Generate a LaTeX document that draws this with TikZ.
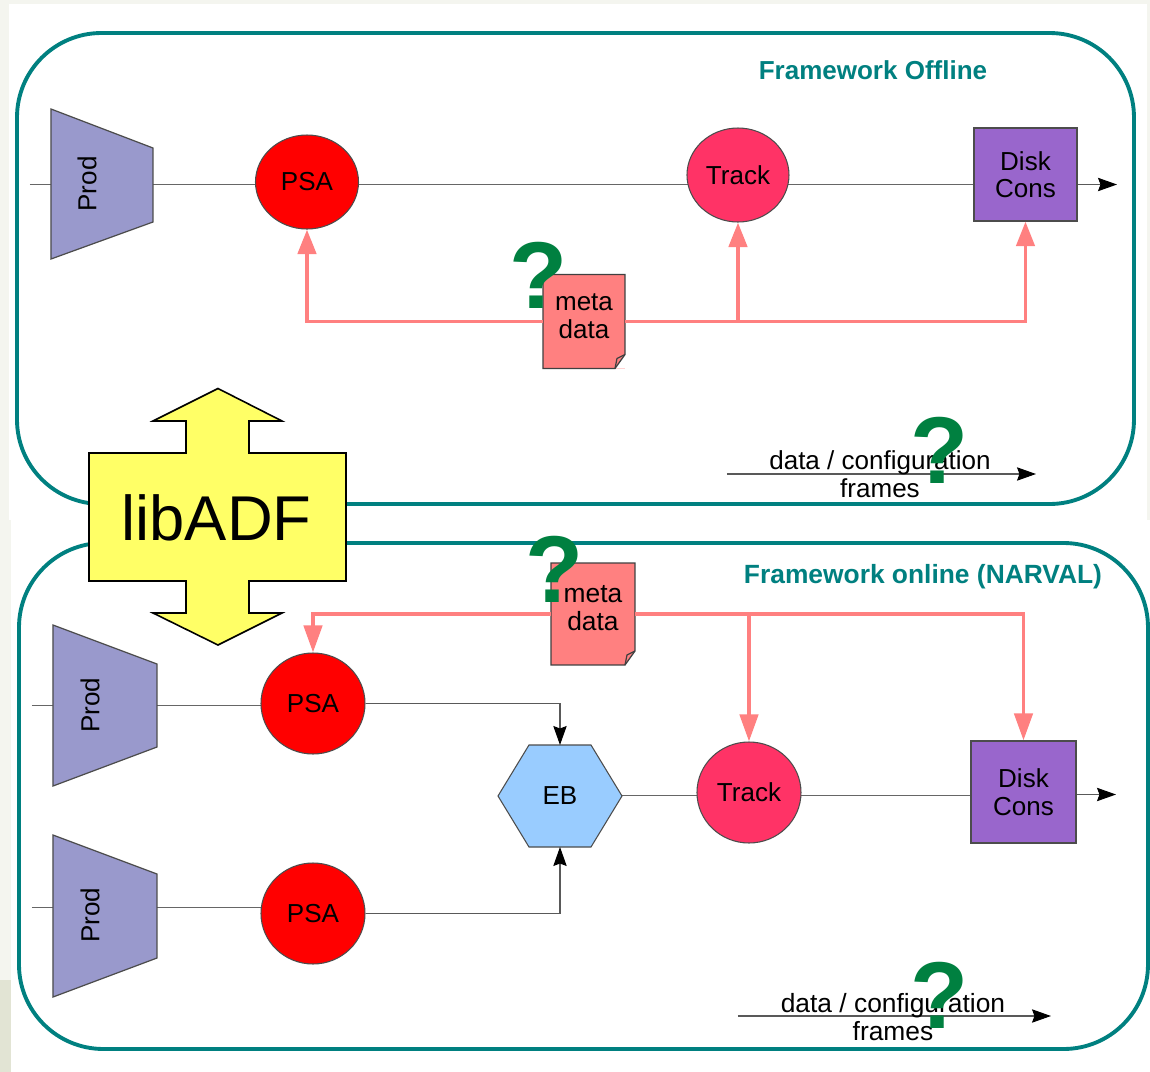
\documentclass[tikz,border=0pt]{standalone}
\usepackage{fontspec}
\setmainfont{Liberation Sans}
\usetikzlibrary{arrows.meta,shapes.geometric,backgrounds}
\definecolor{panelteal}{HTML}{008080}
\definecolor{quest}{HTML}{008040}
\definecolor{metapink}{HTML}{FF8080}
\definecolor{pagetint}{HTML}{F4F5EF}
\definecolor{cornertint}{HTML}{E2E4D4}
\definecolor{prodblue}{HTML}{9999CC}
\definecolor{trackred}{HTML}{FF3366}
\definecolor{diskviolet}{HTML}{9966CC}
\definecolor{ebblue}{HTML}{99CCFF}
\definecolor{libyellow}{HTML}{FFFF66}
\tikzset{
  lbl/.style={font=\fontsize{7.4}{7.8}\selectfont,inner sep=0pt,align=center},
  lblwide/.style={lbl,font=\fontsize{7.5}{8.1}\selectfont},
  panel/.style={draw=panelteal,line width=1.1pt,fill=white,rounded corners=24pt},
  paneltitle/.style={lbl,text=panelteal,font=\fontsize{7.4}{7.8}\selectfont\bfseries},
  prodshape/.style={draw=black!70,line width=0.35pt,fill=prodblue},
  prodlbl/.style={lbl,rotate=90},
  psanode/.style={lbl,ellipse,draw=black!70,line width=0.3pt,fill=red},
  tracknode/.style={lbl,ellipse,draw=black!70,line width=0.3pt,fill=trackred},
  disknode/.style={lbl,rectangle,draw=black!70,line width=0.35pt,fill=diskviolet},
  metanode/.style={rectangle,inner sep=0pt,outer sep=0pt,fill=metapink},
  metaline/.style={draw=black!75,line width=0.35pt},
  flow/.style={draw=black!65,line width=0.3pt,-{Stealth[length=5.4pt,width=3.8pt,inset=0.7pt,black]}},
  plain/.style={draw=black!60,line width=0.3pt},
  metaflow/.style={metapink,line width=1.1pt,-{Triangle[length=7pt,width=5.2pt]}},
  metaflowlong/.style={metapink,line width=1.1pt,-{Triangle[length=7.7pt,width=5.2pt]}},
  quesmark/.style={text=quest,inner sep=0pt,font=\fontsize{27}{27}\selectfont\bfseries},
}
\begin{document}
\begin{tikzpicture}[x=0.01cm,y=-0.01cm]
  \useasboundingbox (0,0) rectangle (1150,1072);
  % nodes of the upper frame
  \node[psanode,minimum width=103*0.01cm,minimum height=94*0.01cm] (psaA) at (307,182) {PSA};
  \node[tracknode,minimum width=102*0.01cm,minimum height=94*0.01cm] (trackA) at (738,175) {Track};
  \node[disknode,minimum width=103*0.01cm,minimum height=93*0.01cm] (diskA) at (1025.5,174.5) {Disk\\Cons};
  \node[metanode,minimum width=82*0.01cm,minimum height=94*0.01cm] (metaA) at (584,321.5) {};
  \node[paneltitle] (titleA) at (873,70) {Framework Offline};
  % nodes of the lower frame
  \node[psanode,minimum width=104*0.01cm,minimum height=101*0.01cm] (psaB) at (313,703.5) {PSA};
  \node[psanode,minimum width=104*0.01cm,minimum height=101*0.01cm] (psaC) at (313,913.5) {PSA};
  \node[tracknode,minimum width=104*0.01cm,minimum height=101*0.01cm] (trackB) at (749,792.5) {Track};
  \node[disknode,minimum width=105*0.01cm,minimum height=102*0.01cm] (diskB) at (1023.5,792) {Disk\\Cons};
  \node[metanode,minimum width=84*0.01cm,minimum height=102*0.01cm] (metaB) at (593,614) {};
  \node[paneltitle,font=\fontsize{7.5}{7.8}\selectfont\bfseries] (titleB) at (923,577) {Framework online (NARVAL)};
  \coordinate (rowA) at (153,184.5);
  \coordinate (inA) at (30,184.5);
  \coordinate (outA) at (1117,184.5);
  \coordinate (prodBr) at (157,705.5);
  \coordinate (inB) at (32,705.5);
  \coordinate (prodCr) at (157,907.5);
  \coordinate (inC) at (32,907.5);
  \coordinate (ebN) at (560,745);
  \coordinate (ebS) at (560,847);
  \coordinate (ebE) at (622,795.5);
  \coordinate (outB) at (1116,794.5);
  \coordinate (legAs) at (727,474);
  \coordinate (legAe) at (1036,474);
  \coordinate (legBs) at (738,1016);
  \coordinate (legBe) at (1051,1016);
  \begin{scope}[on background layer]
    \fill[pagetint] (0,0) rectangle (1150,1072);
    \fill[cornertint] (0,980) rectangle (11,1072);
    \fill[white] (9,4) rectangle (1147,520);
    \fill[white] (11,520) rectangle (1150,1072);
    \draw[panel] (17,33) rectangle (1134,504);
    \draw[panel] (19,543) rectangle (1148,1049);
    \draw[plain] (inA) -- (rowA);
    \draw[plain] (rowA) -- (rowA -| psaA.center) -- (rowA -| trackA.center) -- (rowA -| diskA.center);
    \draw[plain] (inB) -- (prodBr) -- (prodBr -| psaB.center);
    \draw[plain] (inC) -- (prodCr) -- (prodCr -| psaC.center);
    \draw[plain] (ebE) -- (ebE -| trackB.center) -- (ebE -| diskB.center);
  \end{scope}
  % prod stages
  \draw[prodshape] (51,109) -- (153,148) -- (153,222) -- (51,259) -- cycle;
  \draw[prodshape] (53,625) -- (157,664) -- (157,747) -- (53,786) -- cycle;
  \draw[prodshape] (53,835) -- (157,874) -- (157,958) -- (53,997) -- cycle;
  \node[prodlbl] (prodA) at (87,184) {Prod};
  \node[prodlbl] (prodB) at (90,705) {Prod};
  \node[prodlbl] (prodC) at (90,915) {Prod};
  % event builder
  \draw[draw=black!70,line width=0.3pt,fill=ebblue] (498,796) -- (529,745) -- (591,745) -- (622,796) -- (591,847) -- (529,847) -- cycle;
  \node[lbl] (eb) at (560,796) {EB};
  % dog ears of the meta data sheets
  \fill[white] (metaA.south east) -- ++(0,-14) -- ++(-10,14) -- cycle;
  \draw[metaline] (metaA.south west) -- (metaA.north west) -- (metaA.north east) -- ++(0,80) -- ++(-10,14) -- cycle;
  \draw[metaline] (metaA.south east) ++(-10,0) -- ++(2,-10) -- ++(8,-4);
  \fill[white] (metaB.south east) -- ++(0,-14) -- ++(-10,14) -- cycle;
  \draw[metaline] (metaB.south west) -- (metaB.north west) -- (metaB.north east) -- ++(0,88) -- ++(-10,14) -- cycle;
  \draw[metaline] (metaB.south east) ++(-10,0) -- ++(2,-10) -- ++(8,-4);
  \node[lbl] (metaAtext) at (584,316) {meta\\data};
  \node[lblwide] (metaBtext) at (593,608) {meta\\data};
  % black connectors
  \draw[flow] (diskA.east |- outA) -- (outA);
  \draw[flow] (diskB.east |- outB) -- (outB);
  \draw[flow] (psaB) -| (ebN);
  \draw[flow] (psaC) -| (ebS);
  % meta data connectors
  \draw[metaflow] (metaA) -| (psaA.south);
  \draw[metaflow] (metaA) -| (trackA.south);
  \draw[metaflow] (metaA) -| (diskA.south);
  \draw[metaflowlong] (metaB) -| (psaB.north);
  \draw[metaflowlong] (metaB) -| (trackB.north);
  \draw[metaflowlong] (metaB) -| (diskB.north);
  % libADF
  \draw[line width=0.45pt,fill=libyellow] (218,388.5) -- (282,421) -- (249,421) -- (249,453) -- (346,453) -- (346,581) -- (249,581) -- (249,613) -- (282,613) -- (218,645) -- (153,613) -- (186,613) -- (186,581) -- (89,581) -- (89,453) -- (186,453) -- (186,421) -- (153,421) -- cycle;
  \node[inner sep=0pt,font=\fontsize{18}{18}\selectfont] (libADF) at (216.5,518) {libADF};
  % legends
  \draw[flow] (legAs) -- (legAe);
  \node[lbl] (legA) at (880,474) {data / configuration\\frames};
  \draw[flow] (legBs) -- (legBe);
  \node[lblwide] (legB) at (893,1017) {data / configuration\\frames};
  % question marks
  \node[quesmark] (quesA) at (539,275) {?};
  \node[quesmark] (quesB) at (939,450) {?};
  \node[quesmark] (quesC) at (555,569) {?};
  \node[quesmark] (quesD) at (939,995) {?};
\end{tikzpicture}
\end{document}
